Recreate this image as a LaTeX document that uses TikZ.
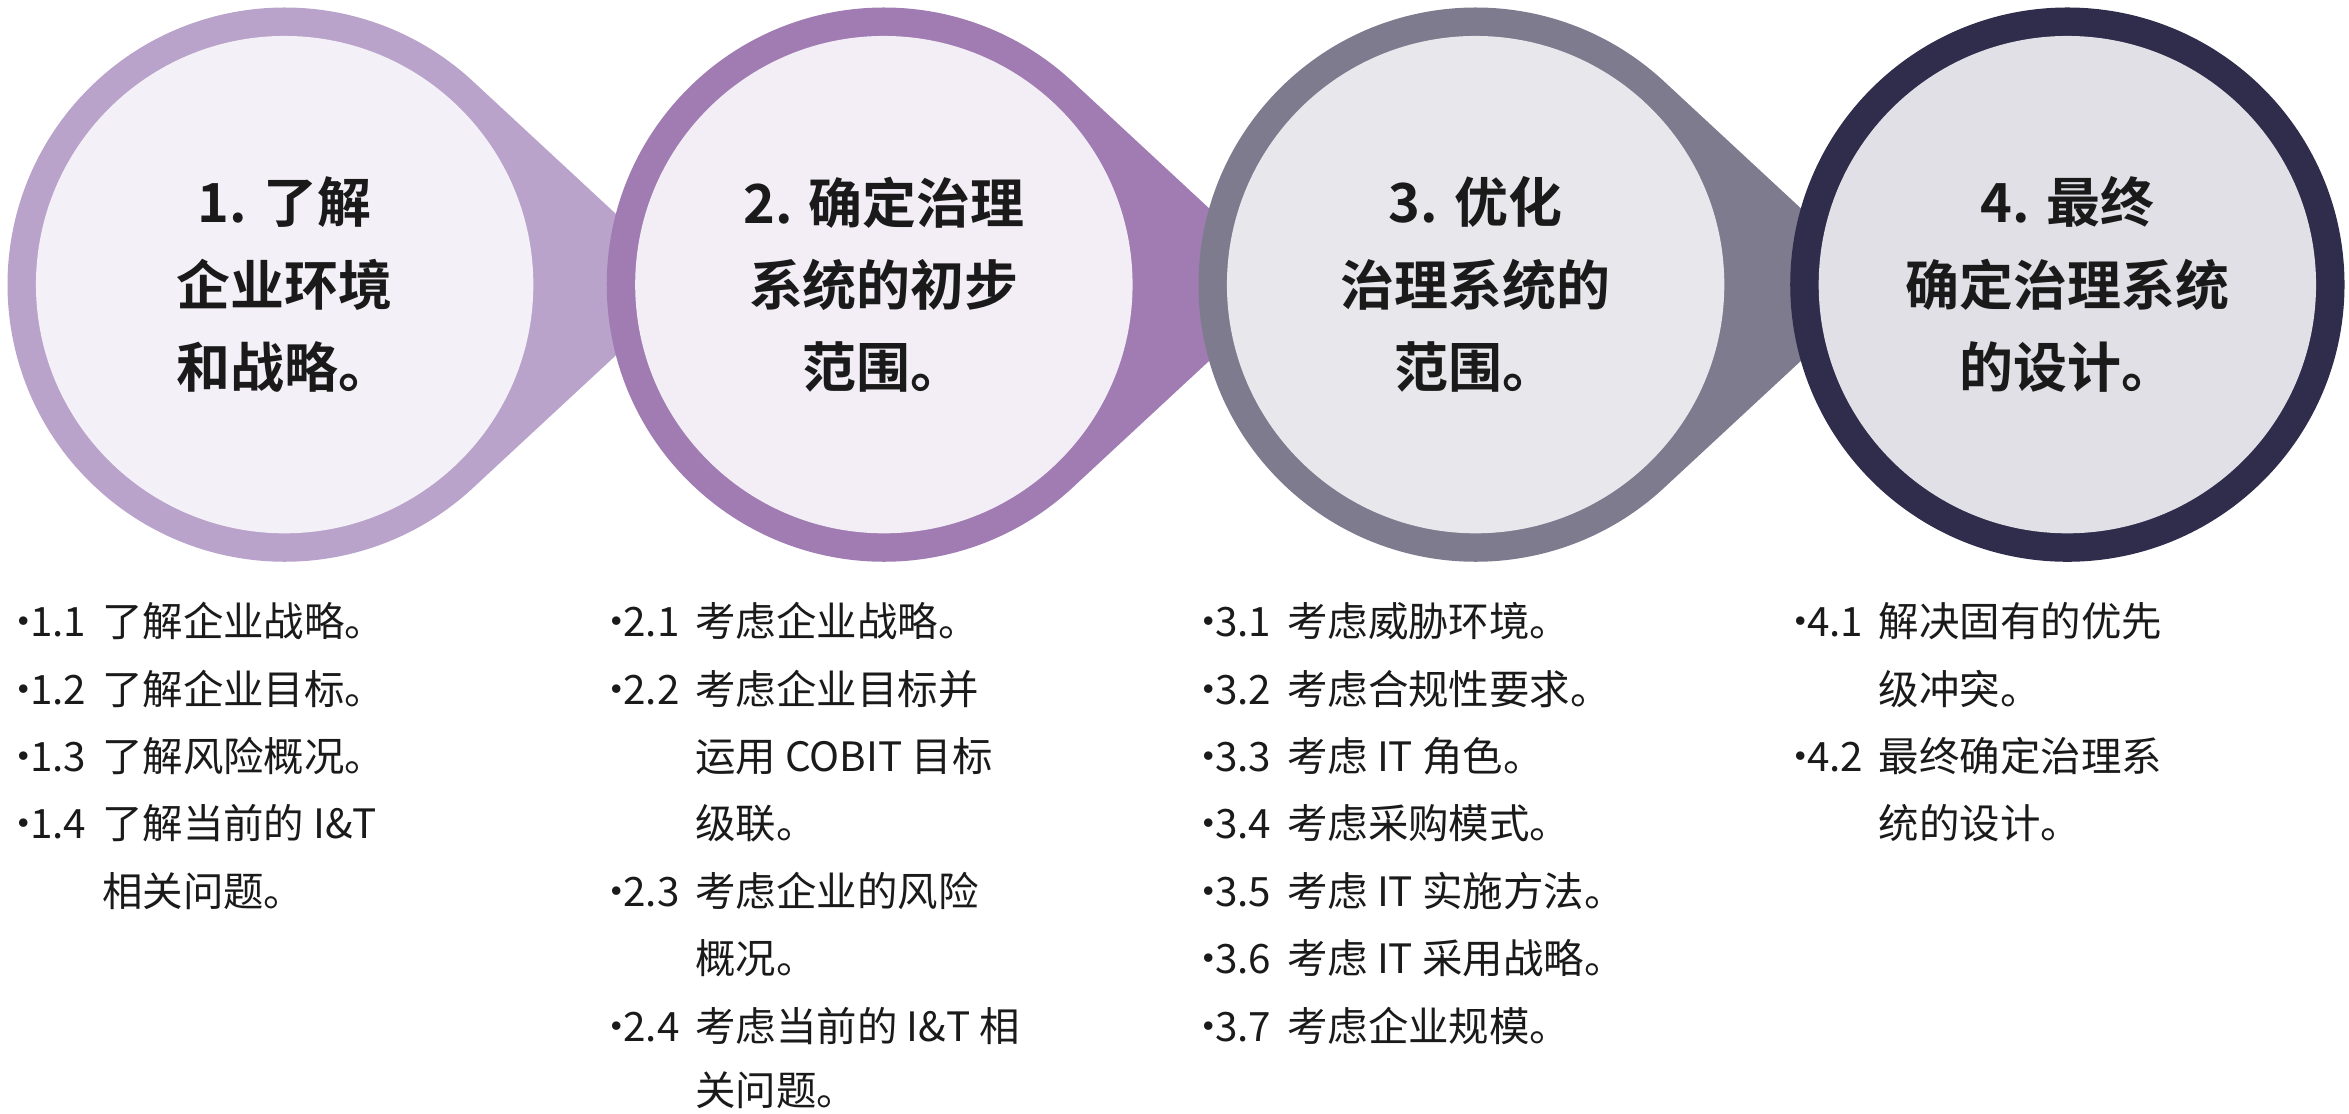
\documentclass[tikz,border=0pt]{standalone}
\usepackage{fontspec}
\newfontfamily\cjk{Noto Sans CJK SC}
\newfontfamily\cjkb{Noto Sans CJK SC Bold}
\definecolor{r1}{HTML}{B9A3CB}\definecolor{f1}{HTML}{F4F0F7}
\definecolor{r2}{HTML}{A07CB3}\definecolor{f2}{HTML}{F3EEF6}
\definecolor{r3}{HTML}{7F7B8F}\definecolor{f3}{HTML}{E8E7EC}
\definecolor{r4}{HTML}{2F2C4C}\definecolor{f4}{HTML}{E1E0E6}
\definecolor{txt}{HTML}{1A1A1A}
\tikzset{head/.style={align=center,font=\cjkb\fontsize{36}{55}\selectfont,text=txt},
 bul/.style={anchor=base west,inner sep=0,font=\cjk\fontsize{27}{30}\selectfont,text=txt}}
\newcommand{\drop}[4]{% x, ring, fill, name
 \fill[#2] (#1+272,-190) -- ([shift={(47.2:185)}]#1,-190) arc[start angle=47.2,end angle=312.8,radius=185] -- cycle;
 \fill[#3] (#1,-190) circle[radius=166];
 \coordinate (#4) at (#1,-190);}
\newcommand{\li}[3]{\node[bul] at (#1,-#2) {#3};}
\begin{document}
\begin{tikzpicture}[x=1pt,y=1pt]
\useasboundingbox (0,0) rectangle (1568,-743);
\drop{190}{r1}{f1}{c1}
\drop{590}{r2}{f2}{c2}
\drop{985}{r3}{f3}{c3}
\fill[r4] (1380,-190) circle[radius=185];
\fill[f4] (1380,-190) circle[radius=166];
\coordinate (c4) at (1380,-190);
\node[head] (h1) at (c1) {1. 了解\\企业环境\\和战略。};
\node[head] (h2) at (c2) {2. 确定治理\\系统的初步\\范围。};
\node[head] (h3) at (c3) {3. 优化\\治理系统的\\范围。};
\node[head] (h4) at (c4) {4. 最终\\确定治理系统\\的设计。};
% column 1
\foreach \y/\n/\t in {425/1.1/了解企业战略。,470/1.2/了解企业目标。,515/1.3/了解风险概况。,560/1.4/了解当前的 I\&T}{
 \li{2}{\y}{•}\li{20}{\y}{\n}\li{68}{\y}{\t}}
\li{68}{605}{相关问题。}
% column 2
\foreach \y/\n/\t in {425/2.1/考虑企业战略。,470/2.2/考虑企业目标并,605/2.3/考虑企业的风险,695/2.4/考虑当前的 I\&T 相}{
 \li{398}{\y}{•}\li{416}{\y}{\n}\li{464}{\y}{\t}}
\li{464}{515}{运用 COBIT 目标}
\li{464}{560}{级联。}
\li{464}{650}{概况。}
\li{464}{738}{关问题。}
% column 3
\foreach \y/\n/\t in {425/3.1/考虑威胁环境。,470/3.2/考虑合规性要求。,515/3.3/考虑 IT 角色。,560/3.4/考虑采购模式。,605/3.5/考虑 IT 实施方法。,650/3.6/考虑 IT 采用战略。,695/3.7/考虑企业规模。}{
 \li{793}{\y}{•}\li{811}{\y}{\n}\li{859}{\y}{\t}}
% column 4
\foreach \y/\n/\t in {425/4.1/解决固有的优先,515/4.2/最终确定治理系}{
 \li{1188}{\y}{•}\li{1206}{\y}{\n}\li{1254}{\y}{\t}}
\li{1254}{470}{级冲突。}
\li{1254}{560}{统的设计。}
\end{tikzpicture}
\end{document}
